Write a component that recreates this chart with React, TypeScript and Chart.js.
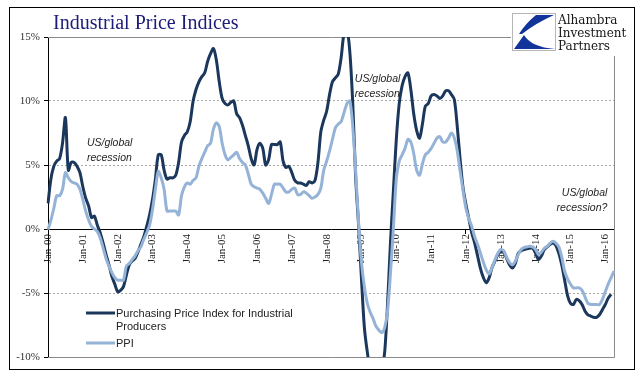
import React, { useEffect, useRef } from "react";
import { Chart, registerables } from "chart.js";

Chart.register(...registerables);

// ---------- data ----------
const MONTHS = ["Jan", "Feb", "Mar", "Apr", "May", "Jun", "Jul", "Aug", "Sep", "Oct", "Nov", "Dec"];
const YEARS = ["00", "01", "02", "03", "04", "05", "06", "07", "08", "09", "10", "11", "12", "13", "14", "15", "16"];
const MONTHS_IN_LAST_YEAR = 4; // Jan-16 .. Apr-16

const CATEGORIES: string[] = [];
YEARS.forEach((yy, yi) => {
  const n = yi === YEARS.length - 1 ? MONTHS_IN_LAST_YEAR : 12;
  for (let m = 0; m < n; m++) CATEGORIES.push(`${MONTHS[m]}-${yy}`);
});

const SERIES_NAMES = ["Purchasing Price Index for Industrial Producers", "PPI"];

// Purchasing Price Index for Industrial Producers, % y/y (monthly, Jan-00 .. Mar-16)
const PPIRM = [
  2.0, 3.9, 4.9, 5.3, 5.5, 6.7, 8.7, 4.6, 5.2, 5.2, 4.9, 4.4,
  3.3, 2.4, 1.8, 0.9, 1.0, 0.3, -0.3, -1.1, -2.0, -2.8, -3.7, -4.3,
  -4.9, -4.8, -4.5, -3.6, -2.8, -2.5, -2.3, -1.8, -1.2, -0.6, 0.2, 1.1,
  2.3, 3.9, 5.8, 5.8, 4.6, 3.9, 4.0, 4.0, 4.2, 5.2, 6.8, 7.3,
  7.6, 8.4, 10.0, 10.9, 11.5, 11.9, 12.2, 13.1, 13.7, 14.1, 13.2, 11.5,
  10.2, 9.8, 9.7, 9.9, 10.0, 9.0, 8.7, 8.1, 7.3, 6.5, 5.5, 5.0,
  6.2, 6.7, 6.3, 5.0, 5.4, 6.6, 6.6, 6.6, 6.8, 5.3, 4.8, 4.9,
  4.4, 3.8, 3.6, 3.6, 3.5, 3.4, 3.7, 3.6, 3.8, 5.2, 7.6, 8.5,
  9.2, 10.5, 11.5, 11.8, 12.1, 13.4, 15.3, 15.6, 13.8, 9.8, 4.0, 0.3,
  -3.9, -7.7, -9.6, -11.0, -11.8, -12.0, -11.8, -11.0, -9.6, -5.8, -1.0, 3.0,
  7.0, 9.8, 11.2, 11.9, 12.2, 10.9, 9.0, 7.7, 7.1, 8.2, 9.6, 9.8,
  10.4, 10.5, 10.4, 10.2, 10.4, 10.8, 10.8, 10.5, 10.1, 8.0, 5.4, 3.2,
  1.9, 0.8, -0.3, -1.1, -2.1, -3.1, -3.8, -4.2, -3.8, -3.0, -2.5, -2.0,
  -1.75, -1.8, -2.3, -2.8, -3.05, -2.7, -1.9, -1.7, -1.6, -1.55, -1.5, -1.5,
  -1.9, -2.4, -2.1, -1.6, -1.4, -1.2, -1.1, -1.3, -1.9, -2.8, -4.0, -5.2,
  -5.8, -5.9, -5.5, -5.6, -5.9, -6.4, -6.7, -6.8, -6.9, -6.9, -6.7, -6.3,
  -5.9, -5.4, -5.1,
];

// PPI, % y/y (monthly, Jan-00 .. Apr-16)
const PPI = [
  -0.05, 0.7, 1.6, 2.6, 2.6, 3.1, 4.4, 4.0, 3.7, 3.6, 3.5, 3.1,
  2.3, 1.4, 0.7, 0.2, 0.0, -0.2, -0.7, -1.5, -2.3, -2.9, -3.4, -3.8,
  -4.0, -4.0, -4.0, -2.9, -2.7, -2.4, -2.1, -1.7, -1.4, -0.8, -0.3, 0.3,
  1.5, 3.1, 4.5, 4.0, 3.1, 1.4, 1.4, 1.4, 1.4, 1.1, 2.6, 3.3,
  3.6, 3.5, 3.8, 4.0, 4.9, 5.5, 6.0, 6.5, 6.7, 7.8, 8.3, 8.0,
  6.7, 5.8, 5.4, 5.6, 5.8, 6.0, 5.5, 5.2, 5.0, 4.3, 3.5, 3.3,
  3.2, 3.1, 2.8, 2.4, 2.0, 2.7, 3.5, 3.5, 3.5, 3.2, 2.9, 2.9,
  3.1, 3.2, 2.7, 2.7, 2.9, 2.8, 2.6, 2.4, 2.5, 2.7, 3.2, 4.6,
  5.3, 6.1, 7.0, 7.9, 8.2, 8.4, 9.1, 9.8, 10.0, 8.0, 4.5, 0.5,
  -2.6, -4.5, -5.8, -6.5, -7.0, -7.6, -7.9, -8.1, -7.7, -6.4, -3.4, 0.1,
  3.9, 5.3, 5.8, 6.3, 7.0, 6.8, 5.9, 4.6, 4.2, 5.1, 5.8, 6.0,
  6.3, 6.7, 7.1, 7.2, 6.8, 6.8, 7.1, 7.5, 7.1, 6.1, 4.5, 3.0,
  1.6, 0.8, 0.2, -0.6, -1.2, -1.9, -2.6, -3.2, -3.5, -3.0, -2.4, -1.9,
  -1.6, -1.7, -2.2, -2.6, -2.8, -2.5, -2.0, -1.6, -1.45, -1.4, -1.35, -1.4,
  -1.6, -2.0, -1.8, -1.5, -1.35, -1.1, -0.95, -1.1, -1.4, -2.2, -3.3, -3.9,
  -4.3, -4.6, -4.6, -4.6, -4.8, -5.3, -5.8, -5.9, -5.9, -5.9, -5.9, -5.5,
  -4.9, -4.3, -3.8, -3.3,
];

const Y_MIN = -10;
const Y_MAX = 15;
const Y_STEP = 5;

const TITLE = "Industrial Price Indices";
const LOGO_LINES = ["Alhambra", "Investment", "Partners"];

// text notes anchored in data coordinates (category index, value)
const NOTES = [
  { lines: ["US/global", "recession"], at: 13.4, value: 6.75, align: "left" as CanvasTextAlign },
  { lines: ["US/global", "recession"], at: 105.7, value: 11.75, align: "left" as CanvasTextAlign },
  { lines: ["US/global", "recession?"], at: 192.7, value: 2.8, align: "right" as CanvasTextAlign },
];

// ---------- styling ----------
const DARK = "#1b375c";
const LIGHT = "#95b3d7";
const SERIF = "'Liberation Serif', 'Times New Roman', serif";
const SANS = "'Liberation Sans', Arial, sans-serif";

const decor = {
  id: "decor",
  beforeDraw(chart: any) {
    const { ctx, width, height } = chart;
    ctx.save();
    ctx.fillStyle = "#ffffff";
    ctx.fillRect(0, 0, width, height);
    ctx.restore();
  },
  beforeDatasetsDraw(chart: any) {
    const { ctx, chartArea: a } = chart;
    ctx.save();
    ctx.strokeStyle = "#8a8a8a";
    ctx.lineWidth = 1;
    ctx.beginPath();
    ctx.moveTo(a.left, Math.round(a.top) + 0.5);
    ctx.lineTo(Math.round(a.right) + 0.5, Math.round(a.top) + 0.5);
    ctx.lineTo(Math.round(a.right) + 0.5, Math.round(a.bottom) + 0.5);
    ctx.lineTo(a.left, Math.round(a.bottom) + 0.5);
    ctx.stroke();
    ctx.restore();
  },
  afterDraw(chart: any) {
    const { ctx, chartArea: a, scales } = chart;
    const x = scales.x;
    const y = scales.y;
    ctx.save();

    // notes
    ctx.fillStyle = "#1e1e1e";
    ctx.font = `italic 10.5px ${SANS}`;
    ctx.textBaseline = "middle";
    NOTES.forEach((n) => {
      const px = x.getPixelForValue(n.at);
      const py = y.getPixelForValue(n.value);
      ctx.textAlign = n.align;
      n.lines.forEach((t, i) => ctx.fillText(t, px, py + i * 15));
    });

    // legend (inside plot, bottom-left)
    const lx = a.left + 38;
    const ly = a.bottom - 44;
    const ds = chart.data.datasets;
    ctx.textAlign = "left";
    ctx.font = `11px ${SANS}`;
    ctx.fillStyle = "#222";
    ctx.lineWidth = 3;
    ctx.strokeStyle = ds[0].borderColor;
    ctx.beginPath();
    ctx.moveTo(lx, ly);
    ctx.lineTo(lx + 29, ly);
    ctx.stroke();
    ctx.fillText("Purchasing Price Index for Industrial", lx + 30, ly + 1);
    ctx.fillText("Producers", lx + 30, ly + 14);
    ctx.strokeStyle = ds[1].borderColor;
    ctx.beginPath();
    ctx.moveTo(lx, ly + 30);
    ctx.lineTo(lx + 29, ly + 30);
    ctx.stroke();
    ctx.fillText(ds[1].label, lx + 30, ly + 31);

    // title
    ctx.font = `20px ${SERIF}`;
    ctx.fillStyle = "#1c1c7a";
    ctx.textBaseline = "alphabetic";
    ctx.fillText(TITLE, 53, 29);

    // logo area
    ctx.fillStyle = "#ffffff";
    ctx.fillRect(511, 9, 122, 47);
    ctx.strokeStyle = "#b5b5b5";
    ctx.lineWidth = 1;
    ctx.strokeRect(512.5, 13.5, 43, 37);
    ctx.fillStyle = "#12339a";
    ctx.beginPath();
    ctx.moveTo(536, 15);
    ctx.lineTo(554, 15);
    ctx.quadraticCurveTo(536, 23, 522, 34);
    ctx.lineTo(519, 34);
    ctx.quadraticCurveTo(525, 24, 536, 15);
    ctx.fill();
    ctx.beginPath();
    ctx.moveTo(514, 49);
    ctx.lineTo(524, 35);
    ctx.quadraticCurveTo(531, 47, 555, 49);
    ctx.closePath();
    ctx.fill();
    ctx.fillStyle = "#151515";
    ctx.font = `12px 'DejaVu Serif', serif`;
    LOGO_LINES.forEach((t, i) => ctx.fillText(t, 558, 24 + i * 13));

    // outer frame
    ctx.strokeStyle = "#000";
    ctx.lineWidth = 1;
    ctx.strokeRect(9.5, 7.5, 625, 362);
    ctx.restore();
  },
};

export default function App() {
  const ref = useRef<HTMLCanvasElement>(null);

  useEffect(() => {
    if (!ref.current) return;
    const chart = new Chart(ref.current, {
      type: "line",
      data: {
        labels: CATEGORIES,
        datasets: [
          {
            label: SERIES_NAMES[0],
            data: PPIRM,
            borderColor: DARK,
            backgroundColor: DARK,
            borderWidth: 3,
            pointRadius: 0,
            tension: 0.3,
            order: 2,
          },
          {
            label: SERIES_NAMES[1],
            data: PPI,
            borderColor: LIGHT,
            backgroundColor: LIGHT,
            borderWidth: 3,
            pointRadius: 0,
            tension: 0.3,
            order: 1,
          },
        ],
      },
      options: {
        responsive: false,
        animation: false,
        events: [],
        layout: { padding: { left: 8, top: 37, right: 27, bottom: 25 } },
        plugins: {
          legend: { display: false },
          title: { display: false },
          tooltip: { enabled: false },
        },
        scales: {
          x: {
            type: "category",
            position: { y: 0 } as any,
            offset: false,
            z: 1,
            grid: {
              drawOnChartArea: false,
              drawTicks: true,
              tickLength: 4,
              tickColor: (c: any) =>
                CATEGORIES[c.index] && CATEGORIES[c.index].startsWith("Jan") ? "#000" : "rgba(0,0,0,0)",
            },
            border: { display: true, color: "#000", width: 1 },
            ticks: {
              autoSkip: false,
              minRotation: 90,
              maxRotation: 90,
              padding: 1,
              color: "#222",
              font: { family: SERIF, size: 11 },
              callback: (_v: any, i: number) => (CATEGORIES[i].startsWith("Jan") ? CATEGORIES[i] : null),
            },
          },
          y: {
            min: Y_MIN,
            max: Y_MAX,
            afterFit: (s: any) => {
              s.width = 40;
            },
            ticks: {
              stepSize: Y_STEP,
              padding: 4,
              color: "#333",
              font: { family: SERIF, size: 11 },
              callback: (v: any) => `${v}%`,
            },
            grid: {
              color: (c: any) => {
                const v = c.tick ? c.tick.value : null;
                return v === 0 || v === Y_MIN || v === Y_MAX ? "rgba(0,0,0,0)" : "#a8a8a8";
              },
              tickColor: "#000",
              tickLength: 4,
              drawTicks: true,
            },
            border: { display: true, color: "#000", width: 1, dash: [2, 2] },
          },
        },
      },
      plugins: [decor],
    } as any);
    return () => chart.destroy();
  }, []);

  return (
    <div style={{ position: "absolute", left: 0, top: 0, width: 641, height: 382, background: "#fff" }}>
      <canvas ref={ref} width={641} height={382} style={{ display: "block", width: 641, height: 382 }} />
    </div>
  );
}
